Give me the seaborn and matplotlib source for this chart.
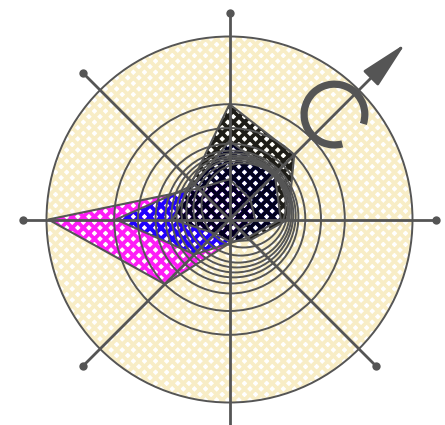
import numpy as np
import matplotlib
matplotlib.use('Agg')
import matplotlib.pyplot as plt
from matplotlib.patches import Circle, Polygon, Arc
import seaborn as sns

sns.set_style('white')
plt.rcParams['hatch.linewidth'] = 2.7

# radar values, clockwise from north (outer ring = 100)
directions = ['N', 'NE', 'E', 'SE', 'S', 'SW', 'W', 'NW']
black_vals = [63, 50, 32, 16, 12, 11, 31, 29]
blue_vals = [43, 35, 28, 14, 13, 27, 62, 27]
magenta_vals = [22, 16, 14, 8, 13, 50, 99, 24]

# grid rings: concentric ones, then a cluster pushed toward the north-east
ring_radii = [100, 63, 50]
cluster_radii = [23.0, 25.8, 28.3, 30.1, 31.9, 33.9, 36.3, 40.9]
cluster_shift = [10.9, 8.6, 6.7, 5.5, 4.2, 3.2, 1.9, 0.7]

GRAY = '#555555'
SCALE = 1.83  # pixels per unit
SPOKE = 113
ARROW = 136

fig = plt.figure(figsize=(4.45, 4.25), dpi=100)
ax = fig.add_axes([0, 0, 1, 1])
ax.set_xlim(-229.5 / SCALE, 215.5 / SCALE)
ax.set_ylim(-205.5 / SCALE, 219.5 / SCALE)
ax.set_aspect('equal')
ax.axis('off')

ang = np.deg2rad(90 - 45 * np.arange(len(directions)))

# yellow hatched disk
ax.add_patch(Circle((0, 0), 100, facecolor='none', edgecolor='#f8edc6',
                    hatch='xxx', lw=0, zorder=1))

# series polygons
for vals, col in [(magenta_vals, '#ff00ff'), (blue_vals, '#0000ff'),
                  (black_vals, '#000000')]:
    v = np.array(vals, dtype=float)
    xy = np.column_stack([v * np.cos(ang), v * np.sin(ang)])
    ax.add_patch(Polygon(xy, closed=True, facecolor='none', edgecolor=col,
                         hatch='xxx', lw=0, alpha=0.88, zorder=2))
    ax.add_patch(Polygon(xy, closed=True, fill=False, edgecolor=GRAY,
                         lw=1.5, zorder=4))

# grid circles
for r in ring_radii:
    ax.add_patch(Circle((0, 0), r, fill=False, edgecolor=GRAY, lw=1.4, zorder=5))
for r, d in zip(cluster_radii, cluster_shift):
    c = d / np.sqrt(2)
    ax.add_patch(Circle((c, c), r, fill=False, edgecolor=GRAY, lw=1.4, zorder=5))

# spokes with end dots (the south one runs off the bottom edge)
dot_x, dot_y = [], []
for i, a in enumerate(ang):
    if directions[i] == 'NE':
        continue
    length = SPOKE + 10 if directions[i] == 'S' else SPOKE
    ax.plot([0, length * np.cos(a)], [0, length * np.sin(a)], color=GRAY,
            lw=2.0, solid_capstyle='butt', zorder=6)
    if directions[i] != 'S':
        dot_x.append(SPOKE * np.cos(a))
        dot_y.append(SPOKE * np.sin(a))
sns.scatterplot(x=dot_x, y=dot_y, s=36, color=GRAY, linewidth=0, zorder=7, ax=ax)

# arrow along the north-east spoke
c45 = np.cos(np.pi / 4)
ax.annotate('', xy=(ARROW * c45, ARROW * c45), xytext=(0, 0),
            arrowprops=dict(arrowstyle='-|>,head_length=3.0,head_width=0.65',
                            mutation_scale=10, color=GRAY, lw=2.0,
                            shrinkA=0, shrinkB=0), zorder=7)

# rotation symbol
ax.add_patch(Arc((81.1 * c45, 81.1 * c45), 2 * 16.6, 2 * 16.6, theta1=-18,
                 theta2=285, lw=5.2, color=GRAY, zorder=8))

fig.savefig('out.png', dpi=100)
